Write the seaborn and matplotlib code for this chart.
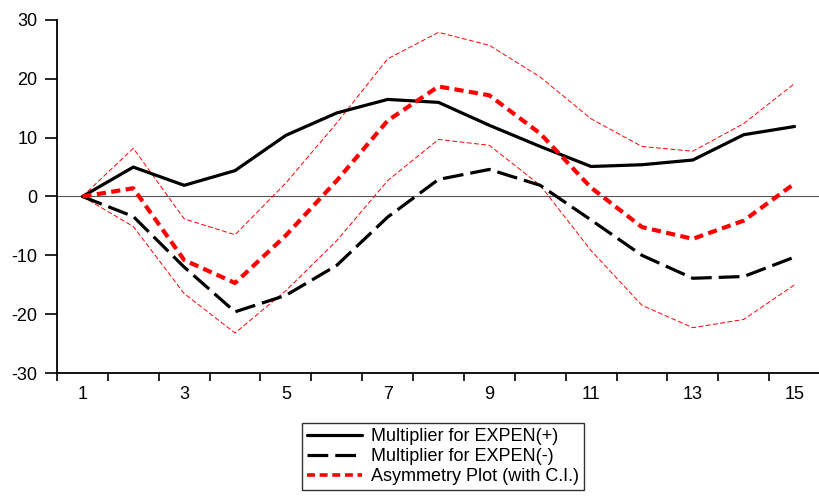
import numpy as np
import pandas as pd
import matplotlib
matplotlib.use("Agg")
import matplotlib.pyplot as plt
import seaborn as sns
from matplotlib.lines import Line2D

periods = list(range(1, 16))
mult_pos = [0, 5.0, 1.9, 4.4, 10.4, 14.2, 16.5, 16.0, 12.1, 8.5, 5.1, 5.4, 6.2, 10.5, 11.9]
mult_neg = [0, -3.4, -12.0, -19.6, -16.8, -11.7, -3.5, 2.9, 4.6, 1.9, -4.0, -10.0, -13.9, -13.6, -10.3]
asym = [0, 1.4, -10.8, -14.7, -6.6, 2.7, 12.9, 18.7, 17.2, 10.7, 1.5, -5.2, -7.2, -4.1, 2.2]
ci_upper = [0, 8.2, -3.8, -6.5, 2.3, 12.5, 23.4, 27.9, 25.7, 20.3, 13.2, 8.5, 7.7, 12.4, 19.2]
ci_lower = [0, -5.1, -16.5, -23.2, -16.0, -7.5, 2.7, 9.7, 8.7, 1.9, -9.2, -18.5, -22.3, -20.9, -15.0]
y_ticks = [-30, -20, -10, 0, 10, 20, 30]
x_labels = [1, 3, 5, 7, 9, 11, 13, 15]
legend_labels = ["Multiplier for EXPEN(+)", "Multiplier for EXPEN(-)", "Asymmetry Plot (with C.I.)"]

sns.set_style("white")
plt.rcParams['font.family'] = ['Liberation Sans', 'DejaVu Sans']
plt.rcParams['text.color'] = 'black'

fig = plt.figure(figsize=(8.2, 4.98), dpi=100)
ax = fig.add_axes([57/820, 1 - 373/498, 763/820, (373 - 20)/498])

ax.axhline(0, color='#555555', linewidth=0.8, zorder=1)

sns.lineplot(x=periods, y=ci_upper, ax=ax, color='red', linewidth=0.7,
             linestyle=(0, (5, 2.5)), label='_nolegend_')
sns.lineplot(x=periods, y=ci_lower, ax=ax, color='red', linewidth=0.7,
             linestyle=(0, (5, 2.5)), label='_nolegend_')
sns.lineplot(x=periods, y=mult_pos, ax=ax, color='black', linewidth=2.3,
             linestyle='-', label='_nolegend_')
sns.lineplot(x=periods, y=mult_neg, ax=ax, color='black', linewidth=2.3,
             linestyle=(0, (6.5, 2.2)), label='_nolegend_')
sns.lineplot(x=periods, y=asym, ax=ax, color='red', linewidth=3.0,
             linestyle=(0, (2.2, 1.3)), label='_nolegend_')

ax.set_xlim(0.5, 15.5)
ax.set_ylim(-30, 30)
ax.set_yticks(y_ticks)
ax.set_yticklabels([str(v) for v in y_ticks], fontsize=13)
ax.set_xticks(x_labels)
ax.set_xticklabels([str(v) for v in x_labels], fontsize=13)
ax.set_xticks(np.arange(0.5, 16, 1.0), minor=True)
ax.tick_params(axis='x', which='both', bottom=True)
ax.tick_params(axis='y', which='both', left=True)
ax.tick_params(axis='x', which='major', length=0, pad=9, colors='black')
ax.tick_params(axis='x', which='minor', length=6, width=1.2, direction='out', color='black')
ax.tick_params(axis='y', which='major', length=9, width=1.2, direction='out', pad=5, colors='black')
ax.set_xlabel('')
ax.set_ylabel('')
for s in ['top', 'right']:
    ax.spines[s].set_visible(False)
for s in ['left', 'bottom']:
    ax.spines[s].set_color('black')
    ax.spines[s].set_linewidth(1.3)
ax.grid(False)

handles = [
    Line2D([], [], color='black', linewidth=2.3, linestyle='-'),
    Line2D([], [], color='black', linewidth=2.3, linestyle=(0, (6.5, 2.2))),
    Line2D([], [], color='red', linewidth=2.6, linestyle=(0, (2.2, 1.3))),
]
leg = fig.legend(handles, legend_labels, loc='upper center',
                 bbox_to_anchor=(443/820, 1 - 423/498), fontsize=13,
                 frameon=True, fancybox=False, shadow=False,
                 handlelength=3.0, handletextpad=0.5, labelspacing=0.15,
                 borderpad=0.3, borderaxespad=0, labelcolor='black')
leg.get_frame().set_edgecolor('black')
leg.get_frame().set_linewidth(1.0)

fig.savefig('out.png', dpi=100)
